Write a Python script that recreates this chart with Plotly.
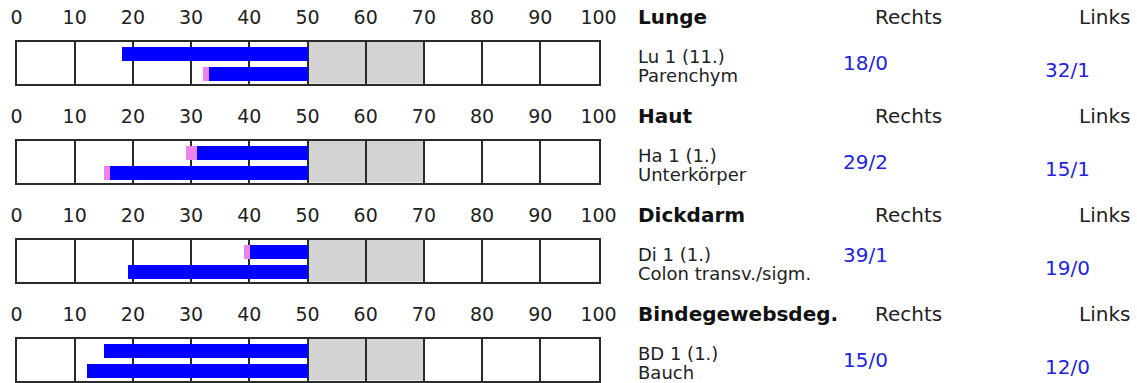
import plotly.graph_objects as go

# ---------------- data ----------------
sections = ["Lunge", "Haut", "Dickdarm", "Bindegewebsdeg."]
codes = ["Lu 1 (11.)", "Ha 1 (1.)", "Di 1 (1.)", "BD 1 (1.)"]
sites = ["Parenchym", "Unterkörper", "Colon transv./sigm.", "Bauch"]
rechts_start = [18, 29, 39, 15]
rechts_mark = [0, 2, 1, 0]
links_start = [32, 15, 19, 12]
links_mark = [1, 1, 0, 0]
side_labels = ["Rechts", "Links"]
tick_vals = list(range(0, 101, 10))
bar_end = 50
gray_from, gray_to = 50, 70

# ---------------- layout constants ----------------
W, H = 1137, 383
X0, X1 = 16.5, 598.5           # pixel positions of 0 and 100
BOX_TOP, BOX_H, PERIOD = 42, 41.5, 99
LINE = "#2b2b2b"
FONT = "DejaVu Sans"
VAL_COLOR = "#2323dd"


def px(x):
    return x / W


def py(y):
    return 1 - y / H


fig = go.Figure()
layout = {}
shapes = []
annotations = []

for i in range(4):
    sfx = "" if i == 0 else str(i + 1)
    xa, ya = "x" + sfx, "y" + sfx
    starts = [links_start[i], rechts_start[i]]
    marks = [links_mark[i], rechts_mark[i]]
    ypos = [0, 1]
    fig.add_trace(go.Bar(
        orientation="h", y=ypos, base=starts, x=marks,
        marker=dict(color="violet", line=dict(width=0)), width=0.7,
        xaxis=xa, yaxis=ya, hoverinfo="skip"))
    fig.add_trace(go.Bar(
        orientation="h", y=ypos, base=[s + m for s, m in zip(starts, marks)],
        x=[bar_end - s - m for s, m in zip(starts, marks)],
        marker=dict(color="blue", line=dict(width=0)), width=0.7,
        xaxis=xa, yaxis=ya, hoverinfo="skip"))

    top = BOX_TOP + PERIOD * i
    layout["xaxis" + sfx] = dict(
        domain=[px(X0), px(X1)], range=[0, 100], side="top", anchor=ya,
        tickvals=tick_vals, ticktext=[str(v) for v in tick_vals],
        showgrid=True, gridcolor=LINE, gridwidth=2, zeroline=False,
        showline=True, mirror=True, linecolor=LINE, linewidth=2,
        ticks="", ticklabelstandoff=8, automargin=False,
        tickfont=dict(family=FONT, size=19, color="#222"),
        fixedrange=True)
    layout["yaxis" + sfx] = dict(
        domain=[py(top + BOX_H), py(top)], range=[-0.5, 1.6], anchor=xa,
        showticklabels=False, showgrid=False, zeroline=False,
        showline=True, mirror=True, linecolor=LINE, linewidth=2,
        automargin=False, fixedrange=True)
    shapes.append(dict(type="rect", xref=xa, yref=ya + " domain",
                       x0=gray_from, x1=gray_to, y0=0, y1=1,
                       fillcolor="#d3d3d3", line=dict(width=0), layer="below"))

    hy = 17 + PERIOD * i
    annotations += [
        dict(text="<b>%s</b>" % sections[i], x=px(636), y=py(hy), xanchor="left",
             font=dict(family=FONT, size=20, color="#111")),
        dict(text=side_labels[0], x=px(908), y=py(hy), xanchor="center",
             font=dict(family=FONT, size=20, color="#222")),
        dict(text=side_labels[1], x=px(1132), y=py(hy), xanchor="right",
             font=dict(family=FONT, size=20, color="#222")),
        dict(text=codes[i], x=px(636), y=py(56.5 + PERIOD * i), xanchor="left",
             font=dict(family=FONT, size=18, color="#222")),
        dict(text=sites[i], x=px(636), y=py(75.5 + PERIOD * i), xanchor="left",
             font=dict(family=FONT, size=18, color="#222")),
        dict(text="%d/%d" % (rechts_start[i], rechts_mark[i]), x=px(865),
             y=py(63 + PERIOD * i - (6 if i == 2 else 0)), xanchor="center",
             font=dict(family=FONT, size=20, color=VAL_COLOR)),
        dict(text="%d/%d" % (links_start[i], links_mark[i]), x=px(1067),
             y=py(70 + PERIOD * i), xanchor="center",
             font=dict(family=FONT, size=20, color=VAL_COLOR)),
    ]

for a in annotations:
    a.update(xref="paper", yref="paper", yanchor="middle", showarrow=False)

fig.update_layout(
    width=W, height=H, margin=dict(l=0, r=0, t=0, b=0, autoexpand=False),
    paper_bgcolor="white", plot_bgcolor="white",
    barmode="overlay", bargap=0, showlegend=False, hovermode=False,
    shapes=shapes, annotations=annotations, **layout)

fig.write_html("out.html", config={"displayModeBar": False},
               post_script="document.body.style.margin='0';document.body.style.overflow='hidden';")
